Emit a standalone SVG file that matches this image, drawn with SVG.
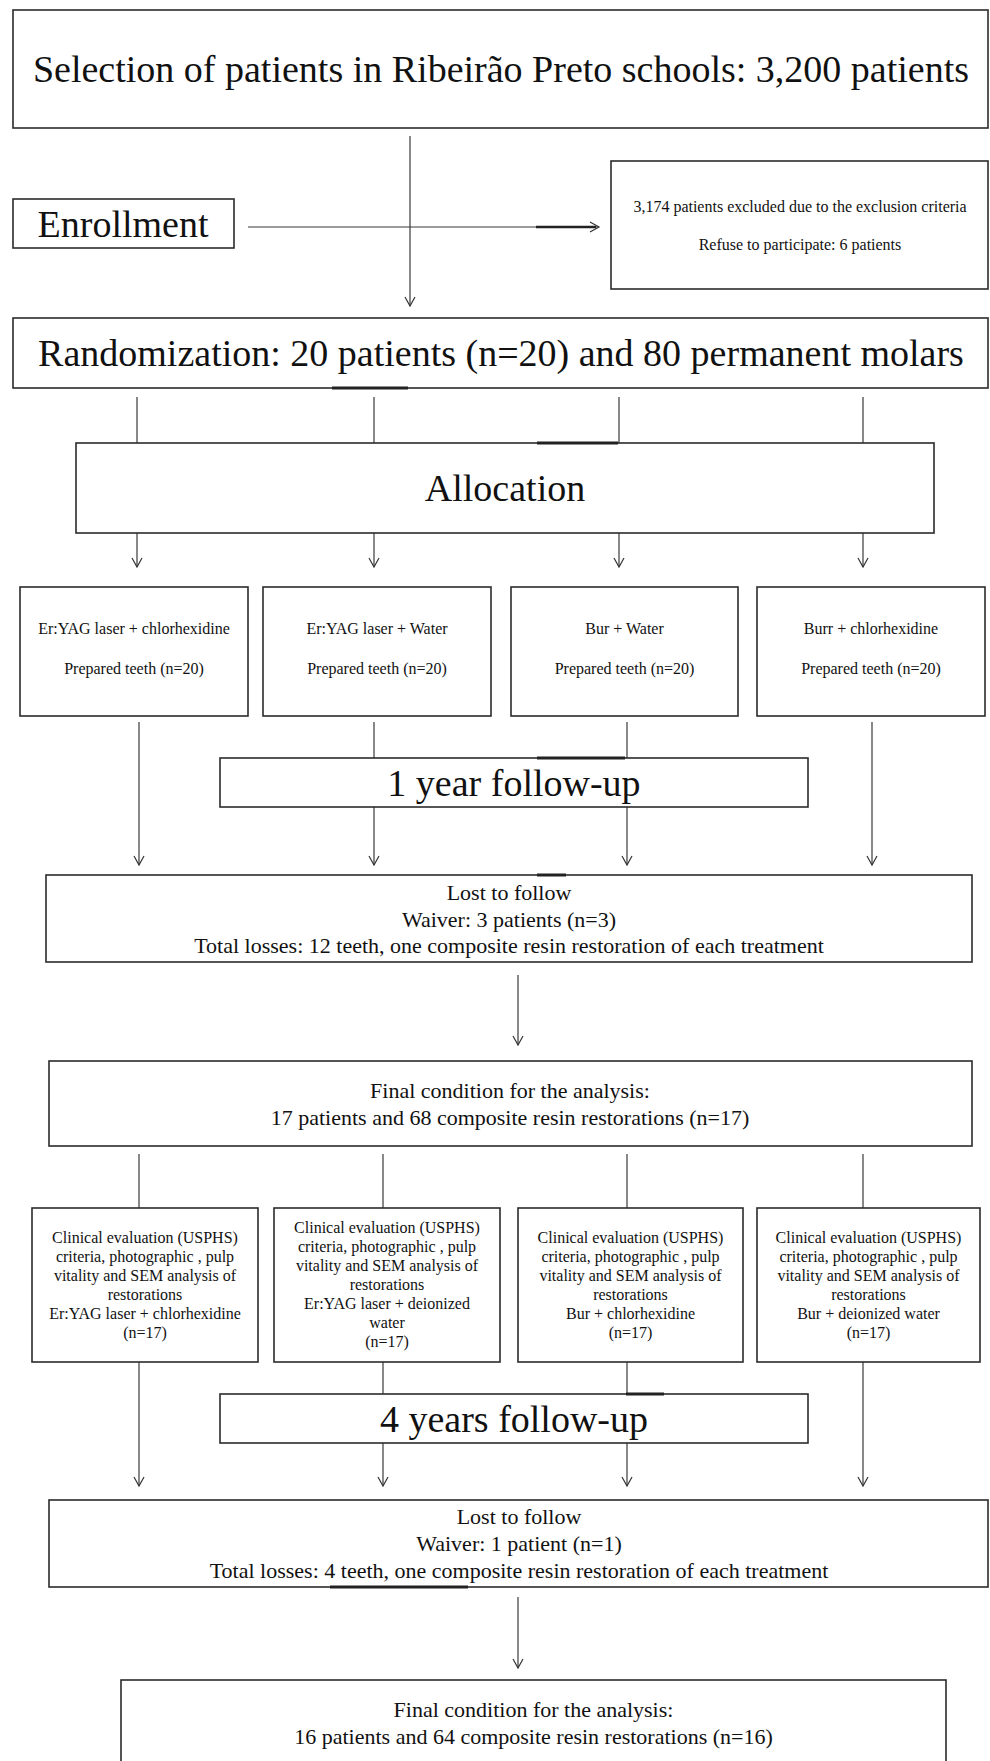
<svg xmlns="http://www.w3.org/2000/svg" width="990" height="1761" viewBox="0 0 990 1761">
<defs>
<marker id="ah" markerUnits="userSpaceOnUse" viewBox="-11 -7 13 14" refX="0" refY="0" markerWidth="13" markerHeight="14" orient="auto">
<path d="M-9,-5 L0,0 L-9,5" fill="none" stroke="#333" stroke-width="1.2"/>
</marker>
<style>
.box{fill:#fff;stroke:#2b2b2b;stroke-width:1.6}
.thick{stroke:#222;stroke-width:3;fill:none}
.ln{stroke:#3a3a3a;stroke-width:1.2;fill:none}
.arr{stroke:#3a3a3a;stroke-width:1.2;fill:none;marker-end:url(#ah)}
text{font-family:"Liberation Serif","Times New Roman",serif;fill:#111;text-anchor:middle}
.big{font-size:38px}
.mid{font-size:22px}
.sm{font-size:16px}
</style>
</defs>
<rect x="0" y="0" width="990" height="1761" fill="#fff"/>

<g id="connectors">
<path class="arr" d="M410,136 V306"/>
<path class="arr" d="M248,227 H599"/>
<path class="thick" d="M536,227 H596" style="stroke-width:2.4"/>
<path class="ln" d="M137,397 V443 M374,397 V443 M619,397 V443 M863,397 V443"/>
<path class="arr" d="M137,533 V567"/>
<path class="arr" d="M374,533 V567"/>
<path class="arr" d="M619,533 V567"/>
<path class="arr" d="M863,533 V567"/>
<path class="arr" d="M139,722 V865"/>
<path class="arr" d="M374,722 V865"/>
<path class="arr" d="M627,722 V865"/>
<path class="arr" d="M872,722 V865"/>
<path class="arr" d="M518,975 V1045"/>
<path class="ln" d="M139,1154 V1208 M383,1154 V1208 M627,1154 V1208 M863,1154 V1208"/>
<path class="arr" d="M139,1362 V1486"/>
<path class="arr" d="M383,1362 V1486"/>
<path class="arr" d="M627,1362 V1486"/>
<path class="arr" d="M863,1362 V1486"/>
<path class="arr" d="M518,1597 V1668"/>
</g>

<g id="selection">
<rect class="box" x="13" y="10" width="975" height="118"/>
<text class="big" x="501" y="82">Selection of patients in Ribeirão Preto schools: 3,200 patients</text>
</g>

<g id="enrollment">
<rect class="box" x="13" y="199" width="221" height="49"/>
<text class="big" x="123" y="237">Enrollment</text>
</g>

<g id="excluded">
<rect class="box" x="611" y="161" width="377" height="128"/>
<text class="sm" x="800" y="212">3,174 patients excluded due to the exclusion criteria</text>
<text class="sm" x="800" y="250">Refuse to participate: 6 patients</text>
</g>

<g id="randomization">
<rect class="box" x="13" y="318" width="975" height="70"/>
<path class="thick" d="M332,388 H408"/>
<text class="big" x="501" y="366">Randomization: 20 patients (n=20) and 80 permanent molars</text>
</g>

<g id="allocation">
<rect class="box" x="76" y="443" width="858" height="90"/>
<path class="thick" d="M537,443 H618"/>
<text class="big" x="505" y="501">Allocation</text>
</g>

<g id="group1">
<rect class="box" x="20" y="587" width="228" height="129"/>
<text class="sm" x="134" y="634">Er:YAG laser + chlorhexidine</text>
<text class="sm" x="134" y="674">Prepared teeth (n=20)</text>
</g>
<g id="group2">
<rect class="box" x="263" y="587" width="228" height="129"/>
<text class="sm" x="377" y="634">Er:YAG laser + Water</text>
<text class="sm" x="377" y="674">Prepared teeth (n=20)</text>
</g>
<g id="group3">
<rect class="box" x="511" y="587" width="227" height="129"/>
<text class="sm" x="624.5" y="634">Bur + Water</text>
<text class="sm" x="624.5" y="674">Prepared teeth (n=20)</text>
</g>
<g id="group4">
<rect class="box" x="757" y="587" width="228" height="129"/>
<text class="sm" x="871" y="634">Burr + chlorhexidine</text>
<text class="sm" x="871" y="674">Prepared teeth (n=20)</text>
</g>

<g id="followup1">
<rect class="box" x="220" y="758" width="588" height="49"/>
<path class="thick" d="M537,758 H625"/>
<text class="big" x="514" y="796">1 year follow-up</text>
</g>

<g id="lost1">
<rect class="box" x="46" y="875" width="926" height="87"/>
<path class="thick" d="M537,875 H566"/>
<text class="mid" x="509" y="900">Lost to follow</text>
<text class="mid" x="509" y="927">Waiver: 3 patients (n=3)</text>
<text class="mid" x="509" y="953">Total losses: 12 teeth, one composite resin restoration of each treatment</text>
</g>

<g id="final1">
<rect class="box" x="49" y="1061" width="923" height="85"/>
<text class="mid" x="510" y="1098">Final condition for the analysis:</text>
<text class="mid" x="510" y="1125">17 patients and 68 composite resin restorations (n=17)</text>
</g>

<g id="clinical1">
<rect class="box" x="32" y="1208" width="226" height="154"/>
<text class="sm" x="145" y="1243">Clinical evaluation (USPHS)</text>
<text class="sm" x="145" y="1262">criteria, photographic , pulp</text>
<text class="sm" x="145" y="1281">vitality and SEM analysis of</text>
<text class="sm" x="145" y="1300">restorations</text>
<text class="sm" x="145" y="1319">Er:YAG laser + chlorhexidine</text>
<text class="sm" x="145" y="1338">(n=17)</text>
</g>
<g id="clinical2">
<rect class="box" x="274" y="1208" width="226" height="154"/>
<text class="sm" x="387" y="1233">Clinical evaluation (USPHS)</text>
<text class="sm" x="387" y="1252">criteria, photographic , pulp</text>
<text class="sm" x="387" y="1271">vitality and SEM analysis of</text>
<text class="sm" x="387" y="1290">restorations</text>
<text class="sm" x="387" y="1309">Er:YAG laser + deionized</text>
<text class="sm" x="387" y="1328">water</text>
<text class="sm" x="387" y="1347">(n=17)</text>
</g>
<g id="clinical3">
<rect class="box" x="518" y="1208" width="225" height="154"/>
<text class="sm" x="630.5" y="1243">Clinical evaluation (USPHS)</text>
<text class="sm" x="630.5" y="1262">criteria, photographic , pulp</text>
<text class="sm" x="630.5" y="1281">vitality and SEM analysis of</text>
<text class="sm" x="630.5" y="1300">restorations</text>
<text class="sm" x="630.5" y="1319">Bur + chlorhexidine</text>
<text class="sm" x="630.5" y="1338">(n=17)</text>
</g>
<g id="clinical4">
<rect class="box" x="757" y="1208" width="223" height="154"/>
<text class="sm" x="868.5" y="1243">Clinical evaluation (USPHS)</text>
<text class="sm" x="868.5" y="1262">criteria, photographic , pulp</text>
<text class="sm" x="868.5" y="1281">vitality and SEM analysis of</text>
<text class="sm" x="868.5" y="1300">restorations</text>
<text class="sm" x="868.5" y="1319">Bur + deionized water</text>
<text class="sm" x="868.5" y="1338">(n=17)</text>
</g>

<g id="followup4">
<rect class="box" x="220" y="1394" width="588" height="49"/>
<path class="thick" d="M626,1394 H664"/>
<text class="big" x="514" y="1432">4 years follow-up</text>
</g>

<g id="lost2">
<rect class="box" x="49" y="1500" width="939" height="87"/>
<path class="thick" d="M330,1587 H468"/>
<text class="mid" x="519" y="1524">Lost to follow</text>
<text class="mid" x="519" y="1551">Waiver: 1 patient (n=1)</text>
<text class="mid" x="519" y="1578">Total losses: 4 teeth, one composite resin restoration of each treatment</text>
</g>

<g id="final2">
<rect class="box" x="121" y="1680" width="825" height="100"/>
<text class="mid" x="533.5" y="1717">Final condition for the analysis:</text>
<text class="mid" x="533.5" y="1744">16 patients and 64 composite resin restorations (n=16)</text>
</g>
</svg>
